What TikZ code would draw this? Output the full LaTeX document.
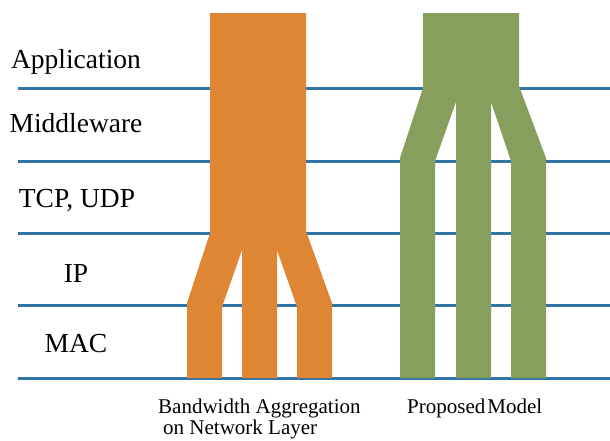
\documentclass[tikz,border=0pt]{standalone}
\usepackage{fontspec}
\setmainfont{Liberation Serif}
\usetikzlibrary{positioning}

\definecolor{layerblue}{RGB}{49,117,165}
\definecolor{aggorange}{RGB}{222,134,52}
\definecolor{propgreen}{RGB}{134,159,93}

\tikzset{
  layerline/.style={draw=layerblue, line width=3pt},
  layername/.style={anchor=base, inner sep=0pt, font=\fontsize{27.5}{30}\selectfont},
  modelname/.style={anchor=base west, inner sep=0pt, font=\fontsize{21}{21}\selectfont},
}

\begin{document}
\begin{tikzpicture}[x=1pt, y=-1pt]
  \useasboundingbox (0,0) rectangle (610,440);

  % layer boundaries
  \foreach \ly in {88,161,233,305,378}
    \draw[layerline] (18,\ly) -- (610,\ly);

  % layer names
  \node[layername] (App)  at (76,68)  {Application};
  \node[layername] (Mid)  at (76,132) {Middleware};
  \node[layername] (TCP)  at (77,207) {TCP, UDP};
  \node[layername] (IP)   at (76,282) {IP};
  \node[layername] (MAC)  at (76,352) {MAC};

  % bandwidth aggregation: split below TCP
  \fill[aggorange] (187,378) -- (187,303) -- (210,233) -- (210,13) -- (306,13)
      -- (306,231) -- (332,303) -- (332,378) -- (297,378) -- (297,307)
      -- (277,250) -- (277,378) -- (242,378) -- (242,250) -- (222,307)
      -- (222,378) -- cycle;

  % proposed model: split below application
  \fill[propgreen] (400,378) -- (400,158) -- (423,88) -- (423,13) -- (519,13)
      -- (519,86) -- (546,158) -- (546,378) -- (511,378) -- (511,161)
      -- (491,102) -- (491,378) -- (456,378) -- (456,102) -- (435,161)
      -- (435,378) -- cycle;

  % captions
  \node[modelname] (Agg) at (158,413) {Bandwidth Aggregation};
  \node[modelname] (AggB) at (163,434) {on Network Layer};
  \node[modelname] (Prop) at (407,413) {Proposed\kern0.1em Model};
\end{tikzpicture}
\end{document}
